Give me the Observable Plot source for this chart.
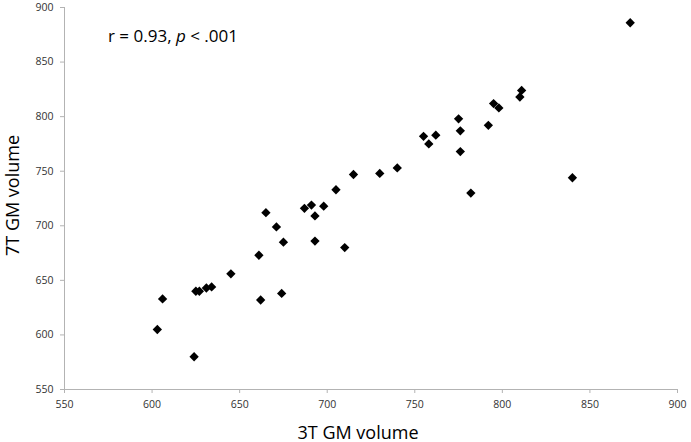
<!DOCTYPE html>
<html>
<head>
<meta charset="utf-8">
<script src="https://cdn.jsdelivr.net/npm/d3@7"></script>
<script src="https://cdn.jsdelivr.net/npm/@observablehq/plot@0.6"></script>
<style>
  body { margin: 0; background: #fff; }
  #wrap { position: relative; width: 691px; height: 442px; }
  #note { position: absolute; left: 108px; top: 27px; font-family: "Open Sans", sans-serif; font-size: 17px; line-height: 17px; color: #000; white-space: nowrap; }
</style>
</head>
<body>
<div id="wrap"><div id="note">r = 0.93, <i>p</i> &lt; .001</div></div>
<script>
const gm3T = [606, 603, 624, 625, 627, 631, 634, 645, 661, 662, 665, 671, 675, 674, 687, 691, 693, 693, 698, 705, 710, 715, 730, 740, 755, 758, 762, 775, 776, 776, 782, 792, 795, 798, 811, 810, 840, 873];
const gm7T = [633, 605, 580, 640, 640, 643, 644, 656, 673, 632, 712, 699, 685, 638, 716, 719, 709, 686, 718, 733, 680, 747, 748, 753, 782, 775, 783, 798, 787, 768, 730, 792, 812, 808, 824, 818, 744, 886];
const xTicks = [550, 600, 650, 700, 750, 800, 850, 900];
const yTicks = [550, 600, 650, 700, 750, 800, 850, 900];
const xTitle = "3T GM volume";
const yTitle = "7T GM volume";

const data = gm3T.map((v, i) => ({x: v, y: gm7T[i]}));
const axisColor = "#b3b3b3";
const labelColor = "#333333";

const chart = Plot.plot({
  width: 691,
  height: 442,
  marginLeft: 64,
  marginRight: 14,
  marginTop: 7,
  marginBottom: 53,
  style: {fontFamily: "Open Sans", fontSize: "10.5px", background: "#fff"},
  x: {domain: [550, 900], label: null},
  y: {domain: [550, 900], label: null},
  marks: [
    Plot.axisX({ticks: xTicks, tickSize: 4, tickPadding: 7, stroke: axisColor, fill: labelColor, label: null}),
    Plot.axisY({ticks: yTicks, tickSize: 4, tickPadding: 7, stroke: axisColor, fill: labelColor, label: null}),
    Plot.ruleX([550], {stroke: axisColor}),
    Plot.ruleY([550], {stroke: axisColor}),
    Plot.dot(data, {x: "x", y: "y", symbol: "diamond2", r: 4.2, fill: "#000", stroke: "none"}),
    Plot.text([xTitle], {frameAnchor: "bottom", textAnchor: "middle", lineAnchor: "bottom", dx: -13, dy: 49, fontSize: 18, fill: "#000"}),
    Plot.text([yTitle], {frameAnchor: "left", textAnchor: "middle", lineAnchor: "middle", rotate: -90, dx: -51.5, dy: -3, fontSize: 18, fill: "#000"})
  ]
});
document.getElementById("wrap").prepend(chart);
</script>
</body>
</html>
